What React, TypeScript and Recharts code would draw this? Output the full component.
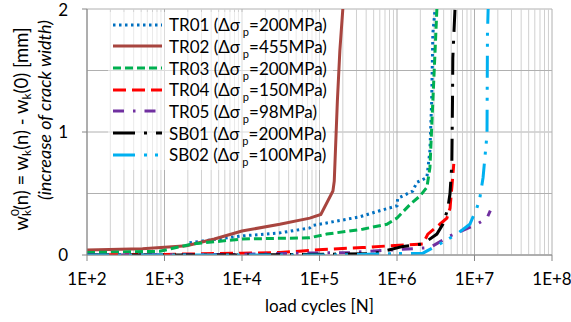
import React from 'react';
import { LineChart, Line, XAxis, YAxis, CartesianGrid, Legend, ReferenceLine } from 'recharts';

// ---- axes ----
const xTicks = [1e2, 1e3, 1e4, 1e5, 1e6, 1e7, 1e8];
const yTicks = [0, 1, 2];
const yHalfGrid = [0.5, 1.5];
const minorMantissas = [2, 3, 4, 5, 6, 7, 8, 9];
const decades = [1e2, 1e3, 1e4, 1e5, 1e6, 1e7];

// ---- series (load cycles N, crack width increase w [mm]) ----
const tr01N = [2.1e3, 1.0e4, 3.1e4, 7.5e4, 8.2e4, 3.3e5, 6.0e5, 1.0e6, 1.02e6, 1.6e6, 1.8e6, 2.43e6, 2.66e6, 2.8e6, 2.9e6, 3.1e6];
const tr01W = [0.10, 0.155, 0.18, 0.22, 0.24, 0.31, 0.36, 0.40, 0.46, 0.52, 0.59, 0.63, 0.85, 1.25, 1.8, 2.0];

const tr02N = [1e2, 5.2e2, 1.93e3, 4.4e3, 1e4, 3.07e4, 7.5e4, 1.04e5, 1.49e5, 1.55e5, 1.7e5, 1.83e5, 2.0e5];
const tr02W = [0.04, 0.05, 0.075, 0.13, 0.195, 0.25, 0.30, 0.33, 0.52, 0.6, 1.25, 1.66, 2.0];

const tr03N = [1e2, 8.65e2, 2.3e3, 1.0e4, 7.5e4, 1.24e5, 3.6e5, 7.4e5, 1.0e6, 1.47e6, 1.98e6, 2.43e6, 2.66e6, 2.9e6, 3.1e6, 3.27e6];
const tr03W = [0.02, 0.03, 0.09, 0.13, 0.14, 0.17, 0.21, 0.25, 0.30, 0.41, 0.48, 0.55, 0.71, 1.25, 1.66, 2.0];

const tr04N = [1e2, 1e3, 1e4, 3.07e4, 1.1e5, 3.6e5, 8.1e5, 2.16e6, 2.5e6, 3.57e6, 4.4e6, 4.83e6, 5.1e6, 5.4e6];
const tr04W = [0.0, 0.005, 0.015, 0.02, 0.045, 0.06, 0.075, 0.09, 0.17, 0.25, 0.30, 0.38, 0.55, 0.74];

const tr05N = [1e2, 1e4, 5.6e4, 2.46e5, 8.1e5, 2.66e6, 4.83e6, 1.07e7, 1.45e7, 1.6e7];
const tr05W = [0.0, 0.005, 0.015, 0.02, 0.04, 0.06, 0.155, 0.25, 0.30, 0.36];

const sb01N = [1e2, 1e4, 6.9e4, 4.9e5, 1.2e6, 2.16e6, 3.27e6, 3.9e6, 4.5e6, 4.83e6, 5.1e6, 5.2e6, 5.25e6, 5.6e6];
const sb01W = [0.0, 0.0, 0.005, 0.01, 0.07, 0.09, 0.17, 0.25, 0.37, 0.50, 0.74, 1.25, 1.6, 2.0];

const sb02N = [1e2, 1.35e5, 8.1e5, 2.16e6, 3.57e6, 5.9e6, 8.7e6, 1.07e7, 1.17e7, 1.29e7, 1.45e7, 1.47e7, 1.5e7];
const sb02W = [0.0, 0.0, 0.01, 0.015, 0.09, 0.17, 0.25, 0.38, 0.46, 0.63, 0.98, 1.8, 2.0];

const toData = (ns: number[], ws: number[]) => ns.map((n, i) => ({ n, w: ws[i] }));

type S = { name: string; stress: string; color: string; dash?: string; data: { n: number; w: number }[] };
const series: S[] = [
  { name: 'TR01', stress: '200', color: '#0070C0', dash: '2.5 3.5', data: toData(tr01N, tr01W) },
  { name: 'TR02', stress: '455', color: '#A8453F', data: toData(tr02N, tr02W) },
  { name: 'TR03', stress: '200', color: '#00B050', dash: '8 4', data: toData(tr03N, tr03W) },
  { name: 'TR04', stress: '150', color: '#FF0000', dash: '13 6', data: toData(tr04N, tr04W) },
  { name: 'TR05', stress: '98', color: '#7030A0', dash: '11 9 2.5 9', data: toData(tr05N, tr05W) },
  { name: 'SB01', stress: '200', color: '#000000', dash: '22 9 3 9', data: toData(sb01N, sb01W) },
  { name: 'SB02', stress: '100', color: '#00B0F0', dash: '22 9 3 8 3 9', data: toData(sb02N, sb02W) },
];

const FONT = 'Lato, "Noto Sans", sans-serif';
const minorX = decades.flatMap((d) => minorMantissas.map((m) => m * d));

const LegendBox = () => (
  <div style={{ fontFamily: FONT, fontSize: 17, color: '#000', background: 'rgba(255,255,255,0.55)', padding: '2px 6px 4px 3px' }}>
    {series.map((s) => (
      <div key={s.name} style={{ display: 'flex', alignItems: 'center', height: 21.67, whiteSpace: 'nowrap' }}>
        <svg width={58} height={10} style={{ flex: 'none' }}>
          <line x1={2} y1={5} x2={51} y2={5} stroke={s.color} strokeWidth={3} strokeDasharray={s.dash} />
        </svg>
        <span>
          {s.name} (Δσ<span style={{ fontSize: 11, position: 'relative', top: 5, marginLeft: 3 }}>p</span>={s.stress}MPa)
        </span>
      </div>
    ))}
  </div>
);

const YTitle = (props: any) => {
  const vb = props.viewBox || { x: 0, y: 9, width: 87, height: 246 };
  const cy1 = vb.y + vb.height / 2 - 3;
  const cy2 = vb.y + vb.height / 2 - 22;
  return (
    <g fontFamily={FONT} fill="#000">
      <text transform={`translate(21, ${cy1}) rotate(-90)`} textAnchor="middle" dominantBaseline="central" fontSize={18.5}>
        w<tspan dy={-7} fontSize={12}>0</tspan>
        <tspan dx={-7} dy={12} fontSize={12}>k</tspan>
        <tspan dy={-5}>(n) = w</tspan>
        <tspan dy={5} fontSize={12}>k</tspan>
        <tspan dy={-5}>(n) - w</tspan>
        <tspan dy={5} fontSize={12}>k</tspan>
        <tspan dy={-5}>(0) [mm]</tspan>
      </text>
      <text transform={`translate(44, ${cy2}) rotate(-90)`} textAnchor="middle" dominantBaseline="central" fontSize={18} fontStyle="italic">
        (increase of crack width)
      </text>
    </g>
  );
};

const XTitle = (props: any) => {
  const vb = props.viewBox || { x: 87, y: 255, width: 465, height: 67 };
  return (
    <text x={vb.x + vb.width / 2} y={vb.y + 50} textAnchor="middle" dominantBaseline="central" fontFamily={FONT} fontSize={17} fill="#000">
      load cycles [N]
    </text>
  );
};

export default function App() {
  return (
    <div style={{ position: 'absolute', left: 0, top: 0, background: '#fff' }}>
      <LineChart width={571} height={322} margin={{ top: 9, right: 19, bottom: 0, left: 0 }}>
        {minorX.map((v) => (
          <ReferenceLine key={`mx${v}`} x={v} stroke="#D0D0D0" strokeWidth={1} />
        ))}
        {yHalfGrid.map((v) => (
          <ReferenceLine key={`hy${v}`} y={v} stroke="#B0B0B0" strokeWidth={1} />
        ))}
        <CartesianGrid stroke="#B0B0B0" />
        <XAxis
          dataKey="n"
          type="number"
          scale="log"
          domain={[1e2, 1e8]}
          allowDataOverflow
          ticks={xTicks}
          tickFormatter={(v: number) => `1E+${Math.round(Math.log10(v))}`}
          height={67}
          tickSize={6}
          tickMargin={12}
          axisLine={{ stroke: '#868686' }}
          tickLine={{ stroke: '#868686' }}
          tick={{ fill: '#000', fontSize: 17, fontFamily: FONT }}
          label={<XTitle />}
        />
        <YAxis
          type="number"
          domain={[0, 2]}
          allowDataOverflow
          ticks={yTicks}
          width={87}
          tickSize={5}
          tickMargin={14}
          axisLine={{ stroke: '#868686' }}
          tickLine={{ stroke: '#868686' }}
          tick={{ fill: '#000', fontSize: 17, fontFamily: FONT }}
          label={<YTitle />}
        />
        <Legend
          layout="vertical"
          align="center"
          verticalAlign="middle"
          content={<LegendBox />}
          wrapperStyle={{ position: 'absolute', left: 108, top: 12, width: 'auto' }}
        />
        {series.map((s) => (
          <Line
            key={s.name}
            data={s.data}
            dataKey="w"
            name={s.name}
            type="linear"
            stroke={s.color}
            strokeWidth={3}
            strokeDasharray={s.dash}
            dot={false}
            activeDot={false}
            isAnimationActive={false}
          />
        ))}
      </LineChart>
    </div>
  );
}
